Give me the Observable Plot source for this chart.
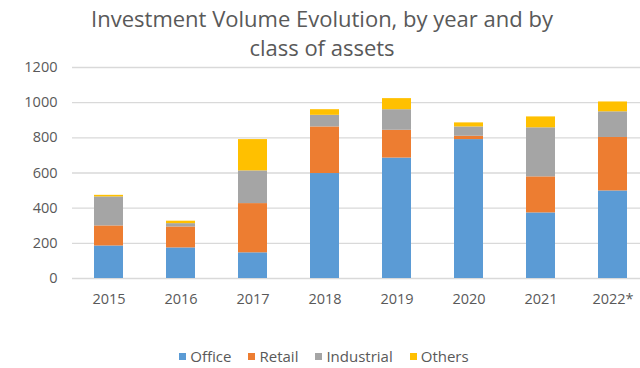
<!DOCTYPE html>
<html>
<head>
<meta charset="utf-8">
<script src="https://cdn.jsdelivr.net/npm/d3@7"></script>
<script src="https://cdn.jsdelivr.net/npm/@observablehq/plot@0.6"></script>
<style>
  html, body { margin: 0; padding: 0; background: #fff; width: 640px; height: 368px; overflow: hidden; }
  #wrap { position: relative; width: 640px; height: 368px; font-family: "Open Sans", sans-serif; }
  #title { position: absolute; left: 0; top: 4px; width: 640px; text-align: center; font-size: 22px; line-height: 29px; color: #595959; padding-left: 4px; box-sizing: border-box; }
  #chart { position: absolute; left: 0; top: 60px; }
  #legend { position: absolute; left: 0; top: 346px; width: 640px; display: flex; justify-content: center; gap: 17px; font-size: 15px; color: #595959; line-height: 20px; padding-left: 8px; box-sizing: border-box; }
  .item { display: flex; align-items: center; gap: 4px; }
  .sw { width: 7px; height: 7px; display: inline-block; }
</style>
</head>
<body>
<div id="wrap">
  <div id="title">Investment Volume Evolution, by year and by<br>class of assets</div>
  <div id="chart"></div>
  <div id="legend"></div>
</div>
<script>
const years = ["2015", "2016", "2017", "2018", "2019", "2020", "2021", "2022*"];
const classes = ["Office", "Retail", "Industrial", "Others"];
const colors = ["#5B9BD5", "#ED7D31", "#A5A5A5", "#FFC000"];
const office     = [185, 174, 146, 597, 685, 790, 373, 498];
const retail     = [114, 119, 280, 265, 158, 19, 205, 304];
const industrial = [165, 19, 186, 66, 117, 53, 279, 146];
const others     = [9, 14, 178, 32, 63, 23, 62, 56];
const yTicks = [0, 200, 400, 600, 800, 1000, 1200];

const series = [office, retail, industrial, others];
const data = [];
years.forEach((y, i) => {
  classes.forEach((c, j) => data.push({year: y, cls: c, value: series[j][i]}));
});

const chart = Plot.plot({
  width: 640,
  height: 262,
  marginLeft: 72,
  marginRight: -9,
  marginTop: 7,
  marginBottom: 44,
  style: {fontFamily: "Open Sans, sans-serif", fontSize: "14.5px", color: "#595959", background: "transparent", overflow: "visible"},
  x: {domain: years, paddingInner: 0.6, paddingOuter: 0.3, label: null},
  y: {domain: [0, 1200], label: null},
  color: {domain: classes, range: colors},
  marks: [
    Plot.ruleY(yTicks, {stroke: "#d9d9d9", strokeWidth: 1.3}),
    Plot.barY(data, {x: "year", y: "value", fill: "cls"}),
    Plot.axisY(yTicks, {tickSize: 0, tickPadding: 15, label: null, fill: "#595959", tickFormat: d => String(d)}),
    Plot.axisX({tickSize: 0, tickPadding: 15, label: null, fill: "#595959"})
  ]
});
document.getElementById("chart").appendChild(chart);

const cs = chart.scale("color");
const legend = document.getElementById("legend");
cs.domain.forEach((d, i) => {
  const item = document.createElement("span");
  item.className = "item";
  const sw = document.createElement("span");
  sw.className = "sw";
  sw.style.background = cs.range[i];
  const t = document.createElement("span");
  t.textContent = d;
  item.appendChild(sw);
  item.appendChild(t);
  legend.appendChild(item);
});
</script>
</body>
</html>
